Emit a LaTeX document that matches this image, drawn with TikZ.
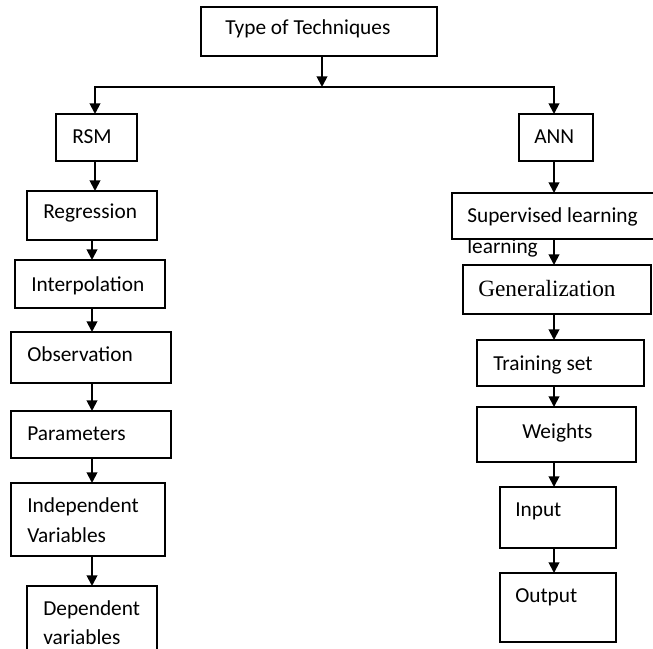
\documentclass[tikz,border=0pt]{standalone}
\usepackage{fontspec}
\setmainfont{Carlito}
\newfontfamily\serifgen{Liberation Serif}
\usetikzlibrary{arrows.meta}
\begin{document}
\begin{tikzpicture}[x=0.75pt,y=-0.75pt,
  bx/.style={draw, line width=1.4pt, rectangle, inner sep=0pt, outer sep=0pt},
  lbl/.style={anchor=base west, inner sep=0pt, font=\fontsize{16}{22.5}\selectfont, align=left},
  arr/.style={line width=1.4pt, -{Triangle[width=8pt,length=8pt]}},
  ln/.style={line width=1.4pt}]
\useasboundingbox (0,0) rectangle (653,649);
\newcommand\mybox[5]{\node[bx, minimum width={(#4-#2)*0.75pt}, minimum height={(#5-#3)*0.75pt}] (#1) at ({(#2+#4)/2},{(#3+#5)/2}) {};}
% boxes
\mybox{top}{201}{7}{437}{56}
\mybox{rsm}{56}{114}{137}{161}
\mybox{ann}{519}{114}{593}{161}
\mybox{reg}{27}{191}{157}{240}
\mybox{interp}{15}{260}{165}{308}
\mybox{obs}{11}{332}{171}{383}
\mybox{par}{11}{411}{171}{458}
\mybox{indep}{11}{483}{165}{556}
\mybox{dep}{27}{586}{157}{665}
\mybox{sup}{452}{193}{664}{239}
\mybox{gen}{463}{265}{651}{314}
\mybox{train}{477}{340}{644}{386}
\mybox{wts}{477}{407}{636}{462}
\mybox{inp}{500}{487}{616}{548}
\mybox{outp}{500}{573}{616}{642}
% labels
\node[lbl] (ttop) at (225,35) {Type of Techniques};
\node[lbl] (trsm) at (72,144) {RSM};
\node[lbl] (tann) at (534,144) {ANN};
\node[lbl] (treg) at (43,219) {Regression};
\node[lbl] (tinterp) at (31,291) {Interpolation};
\node[lbl] (tobs) at (27,361) {Observation};
\node[lbl] (tpar) at (27,440) {Parameters};
\node[lbl] (tindep) at (27,512) {Independent};
\node[lbl] (tindep2) at (27,542) {Variables};
\node[lbl] (tdep) at (43,615) {Dependent};
\node[lbl] (tdep2) at (43,644) {variables};
\node[lbl] (tsup) at (467,222) {Supervised learning};
\node[lbl] (tsup2) at (467,253) {learning};
\node[lbl, font=\serifgen\fontsize{17.5}{20}\selectfont] (tgen) at (478,296) {Generalization};
\node[lbl] (ttrain) at (493,370) {Training set};
\node[lbl] (twts) at (522,438) {Weights};
\node[lbl] (tinp) at (515,516) {Input};
\node[lbl] (toutp) at (515,602) {Output};
% connectors
\coordinate (j) at (322,87);
\coordinate (lx) at (92,0);
\coordinate (rx) at (554,0);
\coordinate (lt) at (95,0);
\draw[arr] (top.south -| j) -- (j);
\draw[arr] (j) -| (rsm.north -| lt);
\draw[arr] (j) -| (ann.north -| rx);
\draw[arr] (rsm.south -| lt) -- (reg.north -| lt);
\draw[arr] (reg.south -| lx) -- (interp.north -| lx);
\draw[arr] (interp.south -| lx) -- (obs.north -| lx);
\draw[arr] (obs.south -| lx) -- (par.north -| lx);
\draw[arr] (par.south -| lx) -- (indep.north -| lx);
\draw[arr] (indep.south -| lx) -- (dep.north -| lx);
\draw[arr] (ann.south -| rx) -- (sup.north -| rx);
\draw[arr] (sup.south -| rx) -- (gen.north -| rx);
\draw[arr] (gen.south -| rx) -- (train.north -| rx);
\draw[arr] (train.south -| rx) -- (wts.north -| rx);
\draw[arr] (wts.south -| rx) -- (inp.north -| rx);
\draw[arr] (inp.south -| rx) -- (outp.north -| rx);
\end{tikzpicture}
\end{document}
